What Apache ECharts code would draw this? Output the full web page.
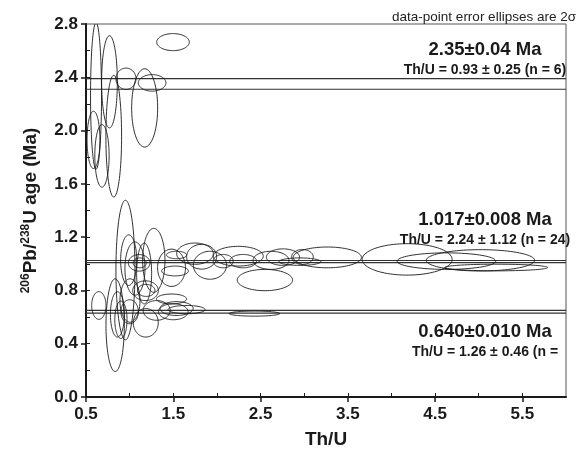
<!DOCTYPE html>
<html>
<head>
<meta charset="utf-8">
<script src="https://cdn.jsdelivr.net/npm/echarts@6/dist/echarts.min.js"></script>
<style>
  html, body { margin: 0; background: #fff; }
  #chart { width: 583px; height: 454px; }
</style>
</head>
<body>
<div id="chart"></div>
<script>
// ellipse centres (Th/U, 206Pb/238U age in Ma) and their 2σ half axes
const thU = [
  0.615, 0.586, 0.683, 0.769, 0.818, 0.958, 1.172, 1.258, 1.497,
  0.647, 0.834, 0.952, 0.989, 1.061, 1.109, 1.115, 1.166, 1.277, 1.182, 1.19,
  0.86, 0.9, 1.0, 1.185, 1.004, 1.31, 1.48, 1.538, 1.653, 1.5, 2.43,
  1.48, 1.52, 1.538, 1.749, 1.825, 1.92, 2.072, 2.245, 2.30, 2.55, 2.62, 2.757,
  2.98, 2.95, 3.265, 4.18, 4.63, 5.02, 5.2
];
const age = [
  2.26, 1.93, 1.81, 2.366, 1.958, 2.389, 2.17, 2.358, 2.664,
  0.687, 0.539, 0.953, 1.027, 0.964, 1.007, 1.007, 0.927, 1.026, 0.798, 0.80,
  0.62, 0.58, 0.64, 0.557, 0.724, 0.65, 0.736, 0.664, 0.656, 0.64, 0.626,
  0.97, 0.946, 1.066, 1.076, 1.053, 0.989, 1.02, 1.057, 1.02, 0.878, 1.026, 1.05,
  1.051, 1.016, 1.048, 1.033, 1.02, 1.026, 0.972
];
const thUErr = [
  0.063, 0.074, 0.082, 0.09, 0.09, 0.115, 0.149, 0.158, 0.187,
  0.082, 0.105, 0.109, 0.092, 0.115, 0.124, 0.076, 0.086, 0.128, 0.147, 0.10,
  0.08, 0.07, 0.1, 0.143, 0.115, 0.155, 0.172, 0.19, 0.212, 0.17, 0.29,
  0.16, 0.153, 0.115, 0.21, 0.172, 0.19, 0.115, 0.286, 0.153, 0.317, 0.206, 0.19,
  0.124, 0.24, 0.391, 0.515, 0.565, 0.621, 0.59
];
const ageErr = [
  0.55, 0.215, 0.235, 0.346, 0.457, 0.08, 0.294, 0.062, 0.064,
  0.104, 0.348, 0.524, 0.19, 0.2, 0.062, 0.037, 0.228, 0.24, 0.074, 0.045,
  0.17, 0.14, 0.09, 0.107, 0.163, 0.074, 0.037, 0.052, 0.031, 0.06, 0.019,
  0.14, 0.037, 0.028, 0.08, 0.093, 0.105, 0.05, 0.074, 0.05, 0.08, 0.068, 0.062,
  0.056, 0.028, 0.078, 0.118, 0.062, 0.08, 0.025
];

// weighted mean ages and their errors
const meanAges = [2.35, 1.017, 0.640];
const meanErrs = [0.04, 0.008, 0.010];
const ageLabels = ['2.35±0.04 Ma', '1.017±0.008 Ma', '0.640±0.010 Ma'];
const thULabels = ['Th/U = 0.93 ± 0.25 (n = 6)', 'Th/U = 2.24 ± 1.12 (n = 24)', 'Th/U = 1.26 ± 0.46 (n ='];

// axis ticks
const xRange = [0.5, 6.0];
const yRange = [0, 2.8];
const xMajorTicks = [0.5, 1.5, 2.5, 3.5, 4.5, 5.5];
const xMinorTicks = [1.0, 1.5, 2.0, 2.5, 3.0, 3.5, 4.0, 4.5, 5.0, 5.5];
const yMajorTicks = [0, 0.4, 0.8, 1.2, 1.6, 2.0, 2.4, 2.8];
const yMinorTicks = [0.2, 0.4, 0.6, 0.8, 1.0, 1.2, 1.4, 1.6, 1.8, 2.0, 2.2, 2.4, 2.6];

const FONT = '"Liberation Sans", Arial, Helvetica, sans-serif';
const INK = '#1a1a1a';

const ellipses = thU.map((x, i) => [x, age[i], thUErr[i], ageErr[i]]);

const renderEllipse = (params, api) => {
  const cx = api.value(0);
  const cy = api.value(1);
  const rx = api.value(2);
  const ry = api.value(3);
  const points = [];
  for (let k = 0; k < 90; k++) {
    const t = (k / 90) * Math.PI * 2;
    points.push(api.coord([cx + rx * Math.cos(t), cy + ry * Math.sin(t)]));
  }
  return {
    type: 'polygon',
    shape: { points },
    style: { fill: 'none', stroke: INK, lineWidth: 0.9 },
  };
};

const boundLines = [];
meanAges.forEach((m, i) => {
  [m + meanErrs[i], m - meanErrs[i]].forEach((y) => {
    boundLines.push({
      type: 'line',
      data: [[xRange[0], y], [xRange[1], y]],
      symbol: 'none',
      silent: true,
      z: 3,
      lineStyle: { color: '#333', width: 1.1 },
    });
  });
});

const labelY = [[50, 70], [219.5, 240], [332, 351.7]];
const textGraphics = [];
meanAges.forEach((m, i) => {
  textGraphics.push({
    type: 'text', x: 485, y: labelY[i][0],
    style: { text: ageLabels[i], font: `bold 18.5px ${FONT}`, fill: INK, textAlign: 'center', textVerticalAlign: 'middle' },
  });
  textGraphics.push({
    type: 'text', x: 485, y: labelY[i][1],
    style: { text: thULabels[i], font: `bold 14px ${FONT}`, fill: INK, textAlign: 'center', textVerticalAlign: 'middle' },
  });
});
textGraphics.push({
  type: 'text', x: 576, y: 17,
  style: { text: 'data-point error ellipses are 2σ', font: `13.5px ${FONT}`, fill: '#222', textAlign: 'right', textVerticalAlign: 'middle' },
});

const chart = echarts.init(document.getElementById('chart'), null, { renderer: 'canvas' });

chart.setOption({
  animation: false,
  backgroundColor: '#fff',
  grid: {
    left: 86, right: 17, top: 24, bottom: 51,
    show: true, borderColor: '#555', borderWidth: 1, backgroundColor: 'transparent',
  },
  xAxis: [
    {
      type: 'value',
      min: xRange[0],
      max: xRange[1],
      name: 'Th/U',
      nameLocation: 'middle',
      nameGap: 33,
      nameTextStyle: { fontFamily: FONT, fontWeight: 'bold', fontSize: 19, color: INK },
      axisLine: { show: true, onZero: false, lineStyle: { color: INK, width: 2 } },
      axisTick: { show: true, inside: false, length: 5, customValues: xMajorTicks, lineStyle: { color: INK, width: 1.5 } },
      axisLabel: {
        customValues: xMajorTicks,
        formatter: (v) => v.toFixed(1),
        fontFamily: FONT, fontWeight: 'bold', fontSize: 17, color: INK, margin: 9,
      },
      splitLine: { show: false },
    },
    {
      type: 'value',
      min: xRange[0],
      max: xRange[1],
      position: 'bottom',
      axisLine: { show: false, onZero: false },
      axisTick: { show: true, inside: true, length: 4, customValues: xMinorTicks, lineStyle: { color: INK, width: 1 } },
      axisLabel: { show: false },
      splitLine: { show: false },
    },
  ],
  yAxis: [
    {
      type: 'value',
      min: yRange[0],
      max: yRange[1],
      name: '{sup|206}{b|Pb/}{sup|238}{b|U age (Ma)}',
      nameLocation: 'middle',
      nameGap: 46,
      nameTextStyle: {
        fontFamily: FONT, fontWeight: 'bold', fontSize: 19, color: INK,
        rich: {
          sup: { fontFamily: FONT, fontWeight: 'bold', fontSize: 12, color: INK, verticalAlign: 'bottom', padding: [0, 0, 8, 0] },
          b: { fontFamily: FONT, fontWeight: 'bold', fontSize: 19, color: INK, verticalAlign: 'bottom' },
        },
      },
      axisLine: { show: true, onZero: false, lineStyle: { color: INK, width: 2 } },
      axisTick: { show: true, inside: false, length: 5, customValues: yMajorTicks, lineStyle: { color: INK, width: 1.5 } },
      axisLabel: {
        customValues: yMajorTicks,
        formatter: (v) => v.toFixed(1),
        fontFamily: FONT, fontWeight: 'bold', fontSize: 17, color: INK, margin: 8,
      },
      splitLine: { show: false },
    },
    {
      type: 'value',
      min: yRange[0],
      max: yRange[1],
      position: 'left',
      axisLine: { show: false, onZero: false },
      axisTick: { show: true, inside: true, length: 4, customValues: yMinorTicks, lineStyle: { color: INK, width: 1 } },
      axisLabel: { show: false },
      splitLine: { show: false },
    },
  ],
  graphic: textGraphics,
  series: [
    {
      type: 'custom',
      clip: true,
      silent: true,
      z: 4,
      renderItem: renderEllipse,
      encode: { x: 0, y: 1 },
      data: ellipses,
    },
    ...boundLines,
  ],
});
</script>
</body>
</html>
